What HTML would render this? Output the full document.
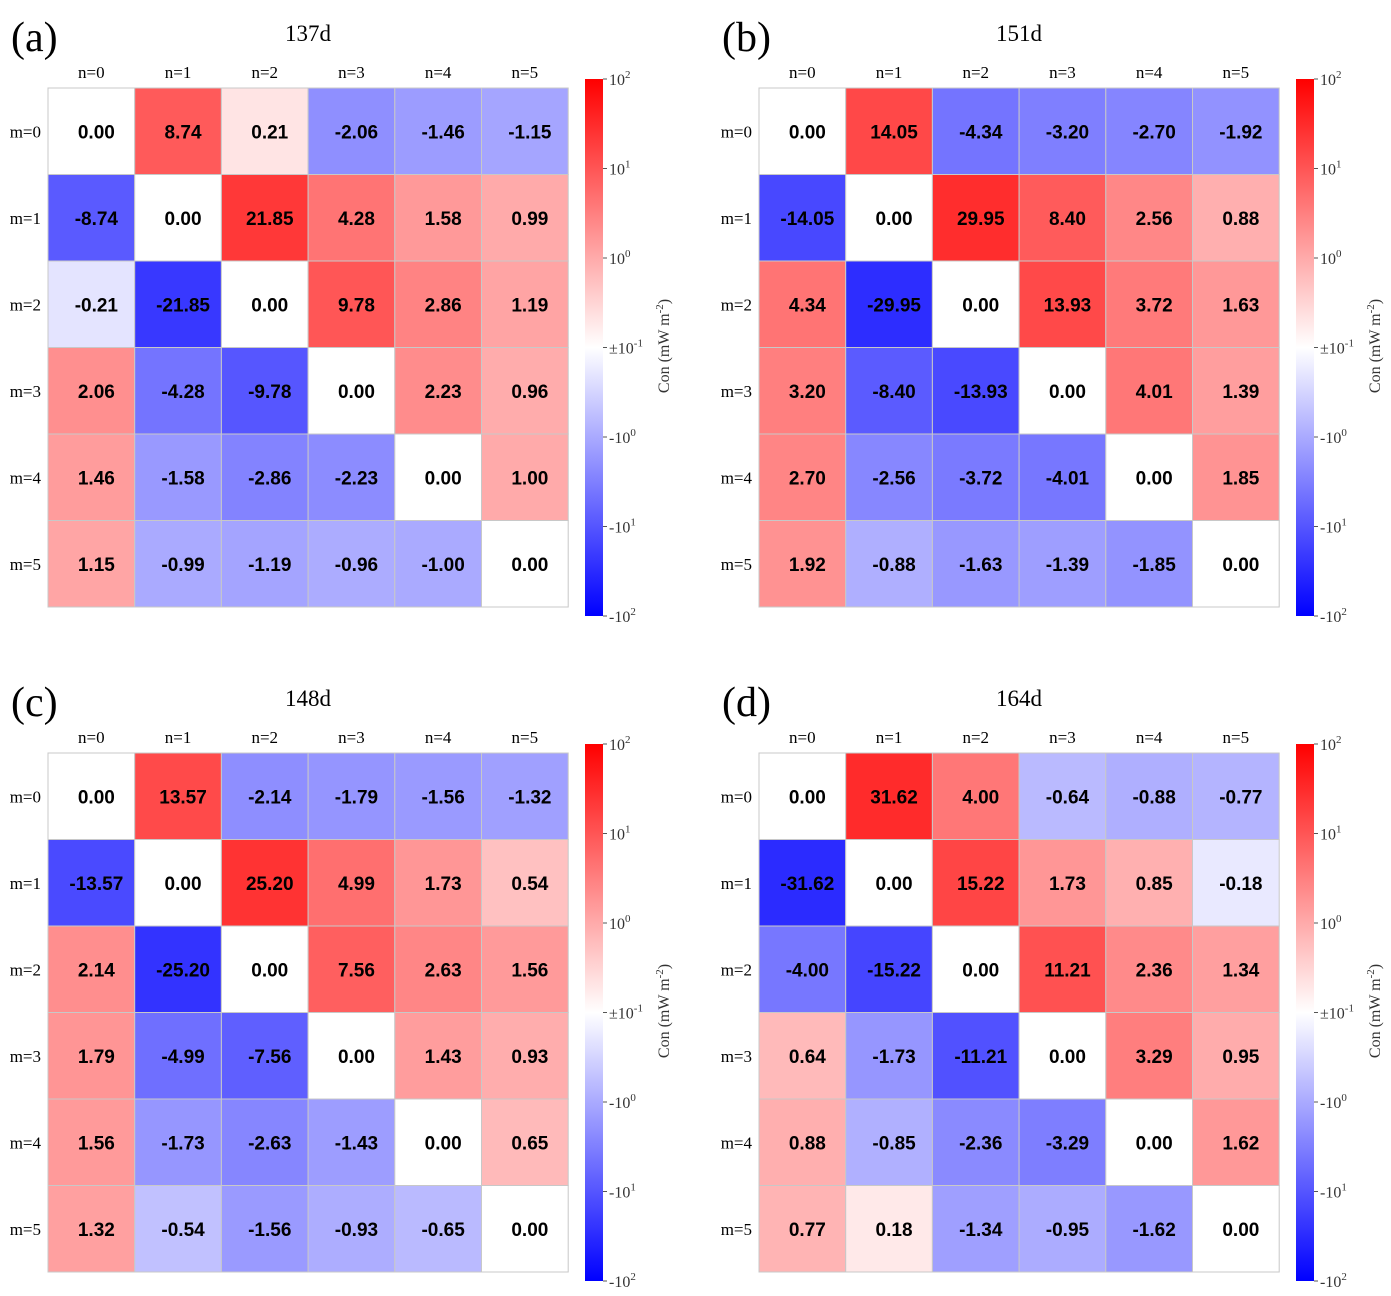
<!DOCTYPE html>
<html><head><meta charset="utf-8">
<style>
html,body{margin:0;padding:0;background:#fff;}
svg{display:block;}
.cell-text{font-family:"Liberation Sans",Arial,sans-serif;font-weight:bold;font-size:19px;}
.tick{font-family:"Liberation Serif",serif;font-size:17px;}
.ttl{font-family:"Liberation Serif",serif;font-size:23px;}
.plabel{font-family:"Liberation Serif",serif;font-size:42px;}
.cb{font-family:"Liberation Serif",serif;font-size:16px;fill:#333;}
</style></head>
<body>
<svg id="fig" width="1391" height="1296" viewBox="0 0 1391 1296">
<defs>
<linearGradient id="cbg" x1="0" y1="0" x2="0" y2="1">
<stop offset="0" stop-color="#ff0000"/><stop offset="0.5" stop-color="#ffffff"/><stop offset="1" stop-color="#0000ff"/>
</linearGradient>
</defs>
</svg>
<script>
const panelLabels = ["(a)","(b)","(c)","(d)"];
const panelTitles = ["137d","151d","148d","164d"];
const colLabels = ["n=0","n=1","n=2","n=3","n=4","n=5"];
const rowLabels = ["m=0","m=1","m=2","m=3","m=4","m=5"];
const cbTicks = ["10<tspan dy='-7' font-size='11'>2</tspan>","10<tspan dy='-7' font-size='11'>1</tspan>","10<tspan dy='-7' font-size='11'>0</tspan>","±10<tspan dy='-7' font-size='11'>-1</tspan>","-10<tspan dy='-7' font-size='11'>0</tspan>","-10<tspan dy='-7' font-size='11'>1</tspan>","-10<tspan dy='-7' font-size='11'>2</tspan>"];
const valuesA = [
 [0.00,8.74,0.21,-2.06,-1.46,-1.15],
 [-8.74,0.00,21.85,4.28,1.58,0.99],
 [-0.21,-21.85,0.00,9.78,2.86,1.19],
 [2.06,-4.28,-9.78,0.00,2.23,0.96],
 [1.46,-1.58,-2.86,-2.23,0.00,1.00],
 [1.15,-0.99,-1.19,-0.96,-1.00,0.00]];
const valuesB = [
 [0.00,14.05,-4.34,-3.20,-2.70,-1.92],
 [-14.05,0.00,29.95,8.40,2.56,0.88],
 [4.34,-29.95,0.00,13.93,3.72,1.63],
 [3.20,-8.40,-13.93,0.00,4.01,1.39],
 [2.70,-2.56,-3.72,-4.01,0.00,1.85],
 [1.92,-0.88,-1.63,-1.39,-1.85,0.00]];
const valuesC = [
 [0.00,13.57,-2.14,-1.79,-1.56,-1.32],
 [-13.57,0.00,25.20,4.99,1.73,0.54],
 [2.14,-25.20,0.00,7.56,2.63,1.56],
 [1.79,-4.99,-7.56,0.00,1.43,0.93],
 [1.56,-1.73,-2.63,-1.43,0.00,0.65],
 [1.32,-0.54,-1.56,-0.93,-0.65,0.00]];
const valuesD = [
 [0.00,31.62,4.00,-0.64,-0.88,-0.77],
 [-31.62,0.00,15.22,1.73,0.85,-0.18],
 [-4.00,-15.22,0.00,11.21,2.36,1.34],
 [0.64,-1.73,-11.21,0.00,3.29,0.95],
 [0.88,-0.85,-2.36,-3.29,0.00,1.62],
 [0.77,0.18,-1.34,-0.95,-1.62,0.00]];
const allValues = [valuesA,valuesB,valuesC,valuesD];

const NS="http://www.w3.org/2000/svg";
const svg=document.getElementById('fig');
function mk(tag,attrs,parent){const e=document.createElementNS(NS,tag);for(const k in attrs)e.setAttribute(k,attrs[k]);(parent||svg).appendChild(e);return e;}
function colorOf(v){
  const a=Math.abs(v); if(a<=0.1) return 'rgb(255,255,255)';
  let t=(Math.log10(a)+1)/3; t=Math.max(0,Math.min(1,t));
  const c=Math.round(255*(1-t));
  return v>0?`rgb(255,${c},${c})`:`rgb(${c},${c},255)`;
}
const origins=[[48,88],[759,88],[48,753],[759,753]];
const cw=86.7, ch=86.5;
for(let p=0;p<4;p++){
  const [x0,y0]=origins[p];
  const g=mk('g',{});
  
  
  const pl=mk('text',{x:x0-37,y:y0-37,class:'plabel'},g); pl.textContent=panelLabels[p];
   
  const tt=mk('text',{x:x0+260,y:y0-47,class:'ttl','text-anchor':'middle'},g); tt.textContent=panelTitles[p];
   
  const vals=allValues[p];
  for(let j=0;j<6;j++){
    const cl=mk('text',{x:x0+cw*(j+0.5),y:y0-10,class:'tick','text-anchor':'middle'},g); cl.textContent=colLabels[j];
     
  }
  for(let i=0;i<6;i++){
    const rl=mk('text',{x:x0-7,y:y0+ch*(i+0.5)+6,class:'tick','text-anchor':'end'},g); rl.textContent=rowLabels[i];
     
    for(let j=0;j<6;j++){
      const v=vals[i][j];
      const r=mk('rect',{x:x0+cw*j,y:y0+ch*i,width:cw,height:ch,fill:colorOf(v),stroke:'#c8c8c8','stroke-width':1},g);
       
      const t=mk('text',{x:x0+cw*(j+0.5)+5,y:y0+ch*(i+0.5)+7,class:'cell-text','text-anchor':'middle'},g);
      t.textContent=v.toFixed(2);
       
    }
  }
  const cx=x0+537, cy0=y0-9, cy1=y0+528;
  const cb=mk('rect',{x:cx,y:cy0,width:18,height:cy1-cy0,fill:'url(#cbg)'},g);
   
  for(let k=0;k<7;k++){
    const y=cy0+(cy1-cy0)*k/6;
    mk('line',{x1:cx+18,x2:cx+22,y1:y,y2:y,stroke:'#555'},g);
    const tl=mk('text',{x:cx+24,y:y+6,class:'cb'},g); tl.innerHTML=cbTicks[k];
     
  }
  const ct=mk('text',{x:0,y:0,class:'cb','text-anchor':'middle',transform:`translate(${cx+84},${y0+258}) rotate(-90)`},g);
  ct.innerHTML="Con (mW m<tspan dy='-6' font-size='11'>-2</tspan><tspan dy='6'>)</tspan>";
   
}
</script>
</body></html>
